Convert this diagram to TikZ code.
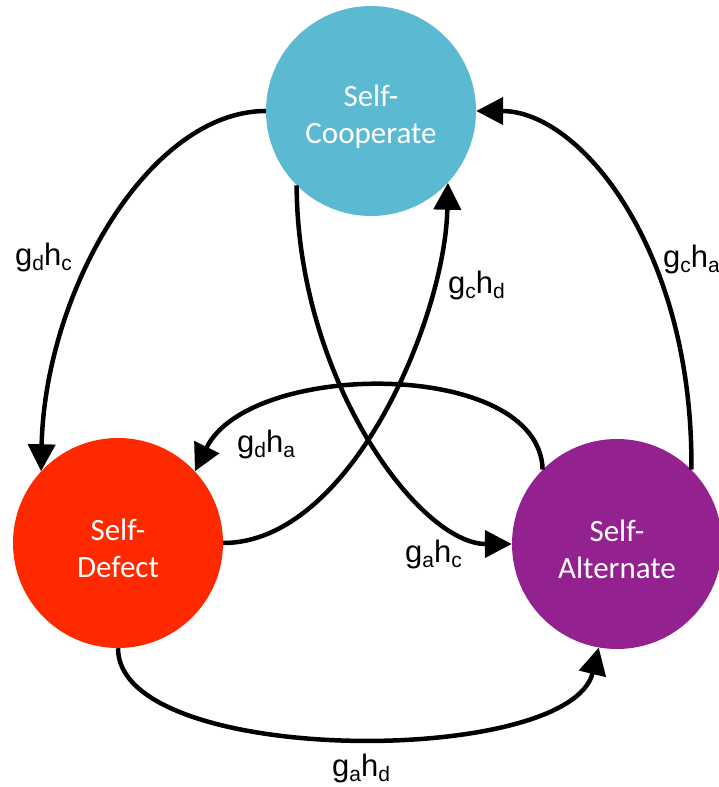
\documentclass[tikz,border=0pt]{standalone}
\usepackage{fontspec}
\setmainfont{Carlito}
\newfontfamily\labfont{Liberation Sans}
\usetikzlibrary{arrows.meta}
\definecolor{coopc}{HTML}{5BB9D1}
\definecolor{defc}{HTML}{FF2900}
\definecolor{altc}{HTML}{93218F}
\newcommand\sbs[1]{\raisebox{-5pt}{\fontsize{21}{21}\selectfont #1}}
\begin{document}
\begin{tikzpicture}[x=1pt,y=-1pt,
  state/.style={circle,minimum size=210pt,inner sep=0pt},
  statetext/.style={inner sep=0pt,text=white,align=center,font=\fontsize{31}{37}\selectfont},
  edge/.style={line width=4.5pt,-{Triangle[length=27pt,width=27pt]}},
  lab/.style={anchor=base west,inner sep=0pt,font=\labfont\fontsize{31}{31}\selectfont}]
\useasboundingbox (0,0) rectangle (719,787);
\node[state,fill=coopc] (coop) at (371,111) {};
\node[state,fill=defc] (def) at (118,543) {};
\node[state,fill=altc] (alt) at (617,544) {};
\node[statetext] (coopt) at (371,117) {Self-\\Cooperate};
\node[statetext] (deft) at (118,548) {Self-\\Defect};
\node[statetext] (altt) at (617,549) {Self-\\Alternate};
% edges
\draw[edge] (coop.west) .. controls +(-116,0) and +(4,-181) .. (def.137);
\draw[edge] (def.east) .. controls +(127,0) and +(-3,137) .. (coop.-43);
\draw[edge] (coop.-135) .. controls +(1,195) and +(-92,0) .. (alt.180);
\draw[edge] (alt.135) .. controls +(-3,-111) and +(55,-112) .. (def.43);
\draw[edge] (alt.45) .. controls +(2,-220) and +(104,0) .. (coop.east);
\draw[edge] (def.south) .. controls +(0,119) and +(-29,120) .. (alt.-100);
% labels
\node[lab] (l1) at (15,265) {g\sbs{d}h\sbs{c}};
\node[lab] (l2) at (448,293) {g\sbs{c}h\sbs{d}};
\node[lab] (l3) at (663,267) {g\sbs{c}h\sbs{a}};
\node[lab] (l4) at (237,452) {g\sbs{d}h\sbs{a}};
\node[lab] (l5) at (405,562) {g\sbs{a}h\sbs{c}};
\node[lab] (l6) at (332,776) {g\sbs{a}h\sbs{d}};
\end{tikzpicture}
\end{document}
